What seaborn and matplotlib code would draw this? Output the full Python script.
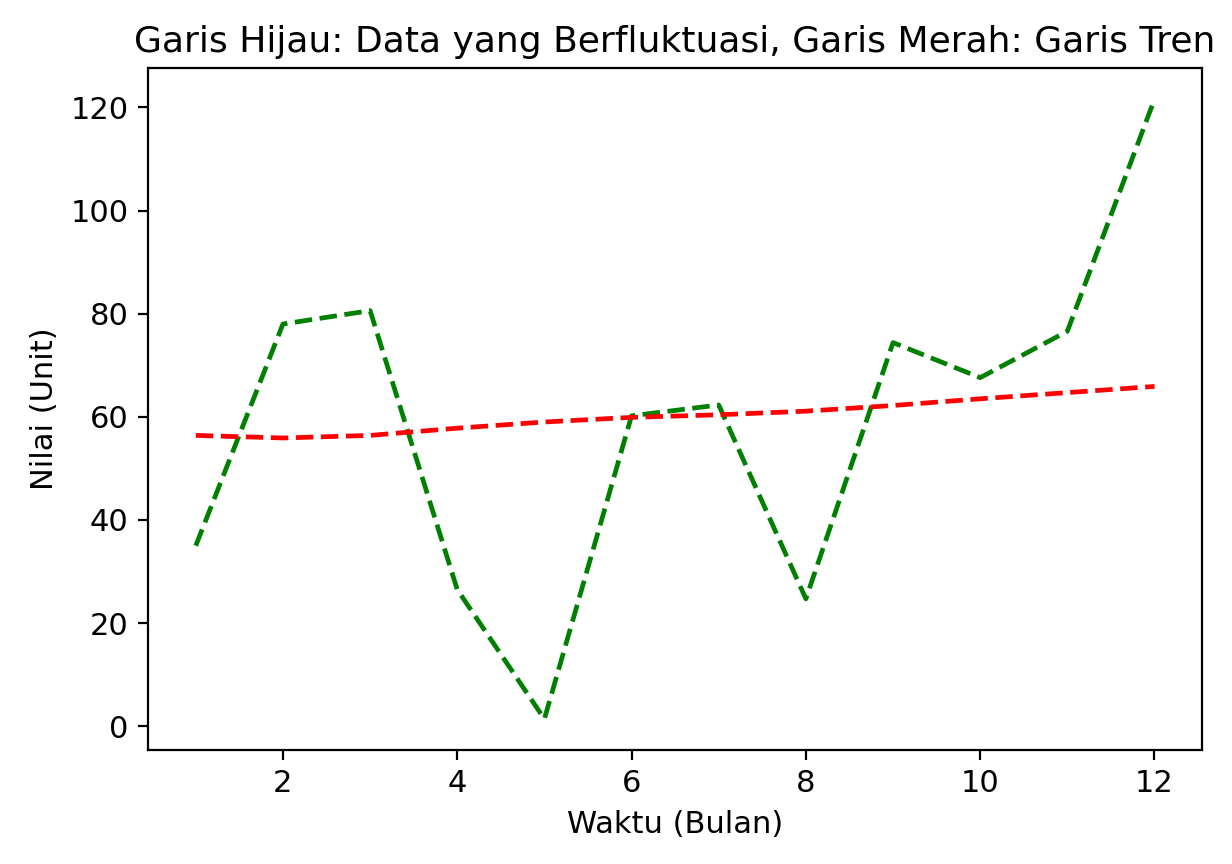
import matplotlib.pyplot as plt
import pandas as pd
import numpy as np
import seaborn as sns

# data
bulan = [1, 2, 3, 4, 5, 6, 7, 8, 9, 10, 11, 12]
nilai = [35, 78, 80.6, 26.5, 1.4, 60.2, 62.3, 24.7, 74.4, 67.6, 76.6, 121.6]
tren = [56.4, 55.9, 56.4, 57.8, 59.0, 59.9, 60.4, 61.1, 62.2, 63.5, 64.7, 65.9]

df = pd.DataFrame({'bulan': bulan, 'nilai': nilai, 'tren': tren})

plt.rcParams['font.family'] = ['DejaVu Sans']
fig, ax = plt.subplots(figsize=(6.16, 4.32), dpi=200)
fig.subplots_adjust(left=0.120, right=0.976, top=0.921, bottom=0.132)

sns.lineplot(x='bulan', y='nilai', data=df, color='green', linestyle='--', linewidth=1.7, ax=ax)
sns.lineplot(x='bulan', y='tren', data=df, color='red', linestyle='--', linewidth=1.7, ax=ax)

ax.set_title('Garis Hijau: Data yang Berfluktuasi, Garis Merah: Garis Tren', fontsize=13)
ax.set_xlabel('Waktu (Bulan)', fontsize=11)
ax.set_ylabel('Nilai (Unit)', fontsize=11)
ax.tick_params(labelsize=11)

plt.savefig('out.png', dpi=200)
